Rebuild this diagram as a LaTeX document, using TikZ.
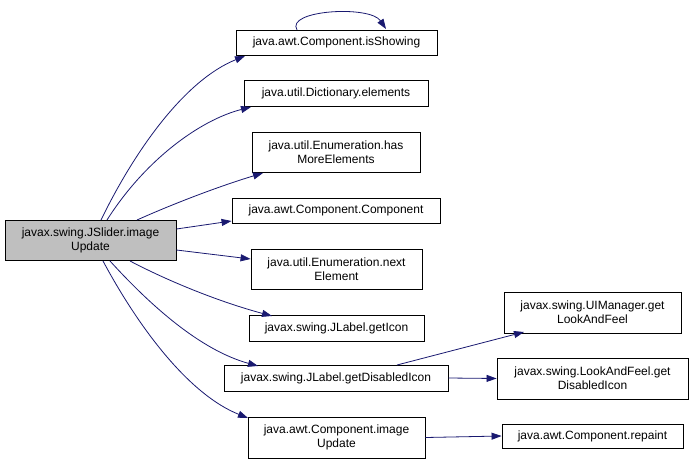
\documentclass[tikz,border=0pt]{standalone}
\usepackage{fontspec}
\setmainfont{Liberation Sans}
\usetikzlibrary{arrows.meta}
\definecolor{edgecol}{HTML}{191970}
\definecolor{maingray}{HTML}{BFBFBF}
\begin{document}
\begin{tikzpicture}[x=1pt,y=-1pt,
  box/.style={draw=black,line width=0.9pt,fill=white,inner sep=0pt,font=\fontsize{12}{14}\selectfont,align=center},
  edge/.style={draw=edgecol,line width=0.8pt,-{Triangle[length=10pt,width=7pt]}}]
\useasboundingbox (0,0) rectangle (693,463);
\node[box,fill=maingray,minimum width=171pt,minimum height=40pt] (main) at (90.5,240) {javax.swing.JSlider.image\\Update};
\node[box,minimum width=201pt,minimum height=25pt] (isshow) at (336.5,42.5) {java.awt.Component.isShowing};
\node[box,minimum width=184pt,minimum height=26pt] (dict) at (336,93) {java.util.Dictionary.elements};
\node[box,minimum width=168pt,minimum height=40pt] (hasmore) at (336,152) {java.util.Enumeration.has\\MoreElements};
\node[box,minimum width=208pt,minimum height=25pt] (comp) at (336,210.5) {java.awt.Component.Component};
\node[box,minimum width=171pt,minimum height=40pt] (next) at (336.5,269) {java.util.Enumeration.next\\Element};
\node[box,minimum width=175pt,minimum height=26pt] (geticon) at (336.5,328) {javax.swing.JLabel.getIcon};
\node[box,minimum width=224pt,minimum height=26pt] (getdis) at (336,378) {javax.swing.JLabel.getDisabledIcon};
\node[box,minimum width=177pt,minimum height=41pt] (imgupd) at (336.5,437.5) {java.awt.Component.image\\Update};
\node[box,minimum width=177pt,minimum height=41pt] (uiman) at (592.5,312.5) {javax.swing.UIManager.get\\LookAndFeel};
\node[box,minimum width=191pt,minimum height=41pt] (lafdis) at (592.5,378.5) {javax.swing.LookAndFeel.get\\DisabledIcon};
\node[box,minimum width=181pt,minimum height=24pt] (repaint) at (592.5,436) {java.awt.Component.repaint};

\coordinate (s1) at (101,220);
\coordinate (s2) at (107,220);
\coordinate (s3) at (137,220);
\coordinate (s6) at (130,261);
\coordinate (s7) at (110,261);
\coordinate (s8) at (103,261);
\coordinate (t1) at (245,56);
\coordinate (t2) at (251,107);
\coordinate (t3) at (263,173);
\coordinate (t6) at (272,316);
\coordinate (t7) at (258,366);
\coordinate (t8) at (248,418);
\coordinate (l1) at (297,30);
\coordinate (l2) at (386,29);
\coordinate (u1) at (397,365);
\coordinate (u2) at (524,332);

\draw[edge] (s1) .. controls (135,150) and (185,80) .. (t1);
\draw[edge] (s2) .. controls (145,160) and (200,120) .. (t2);
\draw[edge] (s3) .. controls (175,203) and (220,186) .. (t3);
\draw[edge] (main.east |- 0,229) -- (comp.west |- 0,221);
\draw[edge] (main.east |- 0,250) -- (next.west |- 0,259);
\draw[edge] (s6) .. controls (170,282) and (220,302) .. (t6);
\draw[edge] (s7) .. controls (150,305) and (200,350) .. (t7);
\draw[edge] (s8) .. controls (140,330) and (190,395) .. (t8);
\draw[edge] (l1) .. controls (285,10) and (370,5) .. (l2);
\draw[edge] (u1) -- (u2);
\draw[edge] (getdis.east) -- (lafdis.west);
\draw[edge] (imgupd.east) -- (repaint.west);
\end{tikzpicture}
\end{document}
